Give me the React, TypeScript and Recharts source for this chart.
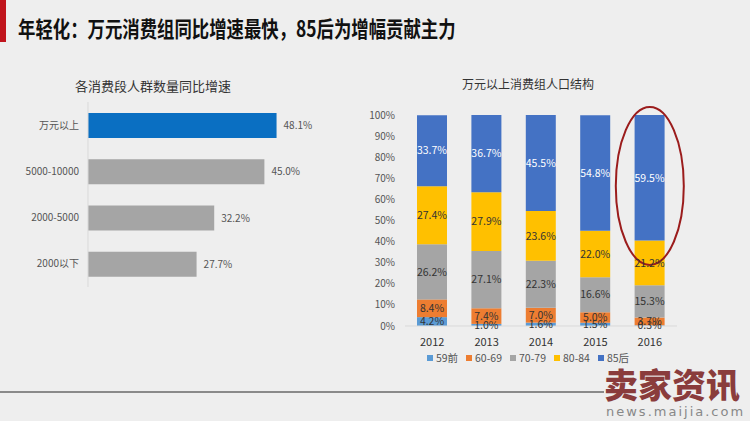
import React from 'react';
import {
  BarChart,
  Bar,
  XAxis,
  YAxis,
  Cell,
  LabelList,
  Legend,
  ReferenceDot,
} from 'recharts';

const FONT = '"Noto Sans CJK SC", "Noto Sans", sans-serif';

// left chart: growth by spending group
const spendGroups = ['万元以上', '5000-10000', '2000-5000', '2000以下'];
const growthRates = [48.1, 45.0, 32.2, 27.7];

// right chart: age structure of the 10k+ group
const years = ['2012', '2013', '2014', '2015', '2016'];
const ageGroups = ['59前', '60-69', '70-79', '80-84', '85后'];
const pre59 = [4.2, 1.0, 1.6, 1.5, 0.3];
const age6069 = [8.4, 7.4, 7.0, 5.0, 3.7];
const age7079 = [26.2, 27.1, 22.3, 16.6, 15.3];
const age8084 = [27.4, 27.9, 23.6, 22.0, 21.2];
const post85 = [33.7, 36.7, 45.5, 54.8, 59.5];
const pctTicks = [0, 10, 20, 30, 40, 50, 60, 70, 80, 90, 100];

const ageColors = ['#5B9BD5', '#ED7D31', '#A5A5A5', '#FFC000', '#4472C4'];

const growthData = spendGroups.map((g, i) => ({ name: g, value: growthRates[i] }));
const structureData = years.map((y, i) => ({
  year: y,
  '59前': pre59[i],
  '60-69': age6069[i],
  '70-79': age7079[i],
  '80-84': age8084[i],
  '85后': post85[i],
}));

const pct = (v: any) => `${Number(v).toFixed(1)}%`;

function Ellipse(props: any) {
  const { cx, cy } = props;
  return <ellipse cx={cx} cy={cy} rx={34} ry={79} fill="none" stroke="#9b1c1c" strokeWidth={2} />;
}

function AgeLegend() {
  return (
    <div style={{ display: 'flex', justifyContent: 'center', gap: 8, fontSize: 10.5, color: '#555', fontFamily: FONT }}>
      {ageGroups.map((g, i) => (
        <span key={g} style={{ display: 'flex', alignItems: 'center', gap: 3 }}>
          <span style={{ width: 6, height: 6, background: ageColors[i], display: 'inline-block' }} />
          {g}
        </span>
      ))}
    </div>
  );
}

export default function App() {
  return (
    <div
      style={{
        position: 'absolute',
        left: 0,
        top: 0,
        width: 750,
        height: 421,
        background: '#eeeeee',
        fontFamily: FONT,
        overflow: 'hidden',
      }}
    >
      <div style={{ position: 'absolute', left: 0, top: 0, width: 6, height: 42, background: '#c0141c' }} />
      <div
        style={{
          position: 'absolute',
          left: 18,
          top: 11,
          fontSize: 22,
          fontWeight: 700,
          color: '#111',
          lineHeight: '32px',
          whiteSpace: 'nowrap',
          transform: 'scaleX(0.79)',
          transformOrigin: 'left center',
        }}
      >
        年轻化：万元消费组同比增速最快，85后为增幅贡献主力
      </div>

      <div
        style={{
          position: 'absolute',
          left: 53,
          width: 200,
          top: 77,
          textAlign: 'center',
          fontSize: 13,
          color: '#333',
          lineHeight: '18px',
        }}
      >
        各消费段人群数量同比增速
      </div>

      <div style={{ position: 'absolute', left: 0, top: 95 }}>
        <BarChart
          width={330}
          height={200}
          layout="vertical"
          data={growthData}
          margin={{ top: 7, right: 46, bottom: 8, left: 0 }}
        >
          <XAxis type="number" domain={[0, 50]} hide />
          <YAxis
            type="category"
            dataKey="name"
            width={88}
            tickSize={0}
            tickMargin={9}
            tickLine={false}
            axisLine={{ stroke: '#d9d9d9' }}
            tick={{ fontSize: 10, fill: '#555', fontFamily: FONT }}
          />
          <Bar dataKey="value" barSize={25} isAnimationActive={false}>
            {growthData.map((d, i) => (
              <Cell key={d.name} fill={i === 0 ? '#0a6fc2' : '#a5a5a5'} />
            ))}
            <LabelList
              dataKey="value"
              position="right"
              offset={7}
              formatter={pct}
              style={{ fontSize: 10, fill: '#555', fontFamily: FONT }}
            />
          </Bar>
        </BarChart>
      </div>

      <div
        style={{
          position: 'absolute',
          left: 428,
          width: 200,
          top: 75,
          textAlign: 'center',
          fontSize: 12,
          color: '#333',
          lineHeight: '18px',
        }}
      >
        万元以上消费组人口结构
      </div>

      <div style={{ position: 'absolute', left: 350, top: 105 }}>
        <BarChart
          width={340}
          height={265}
          data={structureData}
          margin={{ top: 10, right: 13, bottom: 20, left: 0 }}
        >
          <XAxis
            dataKey="year"
            height={24}
            tickLine={false}
            tickMargin={6}
            axisLine={{ stroke: '#d9d9d9' }}
            tick={{ fontSize: 11, fill: '#333', fontFamily: FONT }}
          />
          <YAxis
            width={55}
            domain={[0, 100]}
            ticks={pctTicks}
            allowDataOverflow
            tickFormatter={(v) => `${v}%`}
            tickSize={0}
            tickMargin={10}
            axisLine={false}
            tickLine={false}
            tick={{ fontSize: 10, fill: '#555', fontFamily: FONT }}
          />
          <Legend
            verticalAlign="middle"
            align="center"
            content={<AgeLegend />}
            wrapperStyle={{ top: 245, left: 58, width: 240 }}
          />
          {ageGroups.map((g, i) => (
            <Bar key={g} dataKey={g} stackId="a" fill={ageColors[i]} barSize={30} isAnimationActive={false}>
              <LabelList
                dataKey={g}
                position="center"
                formatter={pct}
                style={{
                  fontSize: 10.5,
                  fill: i === 4 ? '#fff' : '#333',
                  fontFamily: FONT,
                }}
              />
            </Bar>
          ))}
          <ReferenceDot x="2016" y={66.4} ifOverflow="visible" shape={Ellipse} />
        </BarChart>
      </div>

      <div style={{ position: 'absolute', left: 0, top: 391, width: 604, height: 2, background: '#8a8a8a' }} />
      <div
        style={{
          position: 'absolute',
          left: 604,
          top: 365,
          fontSize: 34,
          fontWeight: 900,
          color: '#8a3c3c',
          lineHeight: '38px',
          whiteSpace: 'nowrap',
        }}
      >
        卖家资讯
      </div>
      <div
        style={{
          position: 'absolute',
          left: 606,
          top: 404,
          fontSize: 13,
          color: '#888',
          letterSpacing: 2,
          fontFamily: '"DejaVu Sans", sans-serif',
          lineHeight: '16px',
          whiteSpace: 'nowrap',
        }}
      >
        news.maijia.com
      </div>
    </div>
  );
}
